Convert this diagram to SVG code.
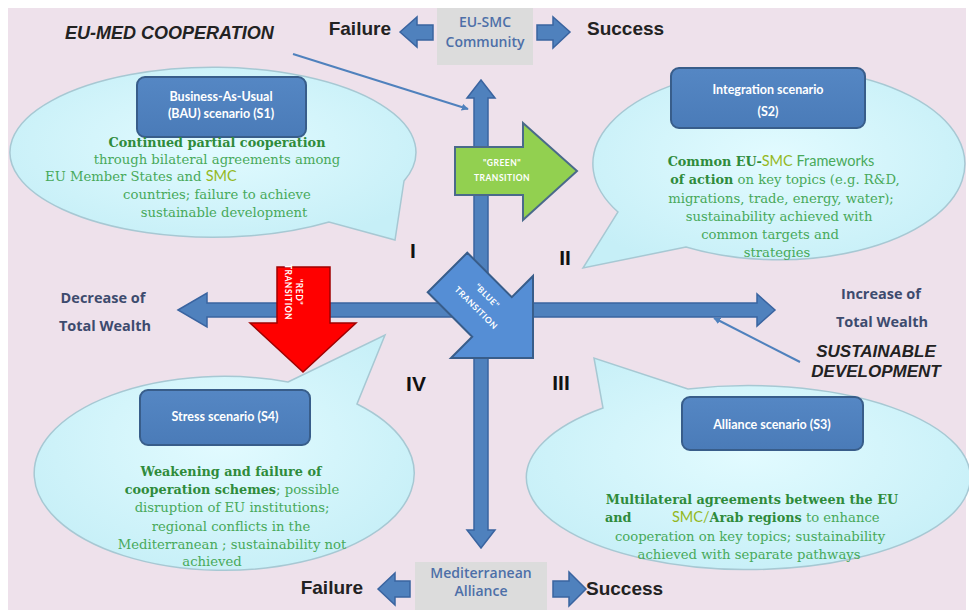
<svg xmlns="http://www.w3.org/2000/svg" width="969" height="613" viewBox="0 0 969 613">
<defs>
<radialGradient id="bub" cx="50%" cy="45%" r="60%">
<stop offset="0" stop-color="#e2fbff"/>
<stop offset="1" stop-color="#c6eff7"/>
</radialGradient>
<linearGradient id="boxg" x1="0" y1="0" x2="0" y2="1">
<stop offset="0" stop-color="#5587c4"/>
<stop offset="1" stop-color="#4a7bb8"/>
</linearGradient>
<marker id="ah" viewBox="0 0 10 10" refX="9" refY="5" markerWidth="7" markerHeight="7" orient="auto" markerUnits="userSpaceOnUse">
<path d="M0,0 L10,5 L0,10 z" fill="#4f81bd"/>
</marker>
<style>
.bubble{fill:url(#bub);stroke:#a7c8d3;stroke-width:1.5}
.box{fill:url(#boxg);stroke:#385d8a;stroke-width:2}
.bt{font-family:Lato,"Liberation Sans",sans-serif;font-weight:700;font-size:12.5px;fill:#ffffff;text-anchor:middle}
.g{font-family:"DejaVu Serif","Liberation Serif",serif;font-size:13.2px;fill:#48a95a}
.gb{font-weight:700;fill:#2f8b3b;font-size:12.8px}
.gs{font-family:Lato,"Liberation Sans",sans-serif;font-size:14.5px}
.yg{fill:#94b81e}
.blk{fill:#4f81bd;stroke:#3a64a0;stroke-width:1.5}
.hd{font-family:"Liberation Sans",Arial,sans-serif;font-weight:700;fill:#222222}
.it{font-style:italic}
.lab{font-family:"Open Sans","Liberation Sans",sans-serif;font-weight:700;font-size:14.5px;fill:#3d4b6e;text-anchor:middle}
.gbox{fill:#dcdcdc}
.gt{font-family:"Open Sans","Liberation Sans",sans-serif;font-weight:600;font-size:14px;fill:#4d6fa8;text-anchor:middle}
.rn{font-family:"Liberation Sans",Arial,sans-serif;font-weight:700;font-size:21px;fill:#111111;text-anchor:middle}
.tt{font-family:Lato,"Liberation Sans",sans-serif;font-weight:700;font-size:8.5px;fill:#ffffff;text-anchor:middle;letter-spacing:0.5px}
.conn{stroke:#4f81bd;stroke-width:2;fill:none}
</style>
</defs>

<rect x="0" y="0" width="969" height="613" fill="#ffffff"/>
<rect x="8" y="8" width="958" height="602" fill="#eee1eb"/>

<g id="s1">
<path class="bubble" d="M404,181 L395,240 L329,222 A203 85 0 1 1 404,181 Z"/>
<rect class="box" x="137" y="77" width="169" height="60" rx="8"/>
<text class="bt" x="221" y="101">Business-As-Usual</text>
<text class="bt" x="221" y="118">(BAU) scenario (S1)</text>
<text class="g" x="217" y="147" text-anchor="middle"><tspan class="gb">Continued partial cooperation</tspan></text>
<text class="g" x="217" y="164" text-anchor="middle">through bilateral agreements among</text>
<text class="g" x="45" y="181">EU Member States and <tspan class="gs yg">SMC</tspan></text>
<text class="g" x="217" y="199" text-anchor="middle">countries; failure to achieve</text>
<text class="g" x="224" y="217" text-anchor="middle">sustainable development</text>
</g>

<g id="s2">
<path class="bubble" d="M686,247 L583,268 L618,212 A186 96 0 1 1 686,247 Z"/>
<rect class="box" x="671" y="68" width="194" height="60" rx="8"/>
<text class="bt" x="768" y="94">Integration scenario</text>
<text class="bt" x="768" y="116">(S2)</text>
<text class="g" x="771" y="166" text-anchor="middle"><tspan class="gb">Common EU-</tspan><tspan class="gs yg">SMC</tspan><tspan class="gs"> Frameworks</tspan></text>
<text class="g" x="785" y="184" text-anchor="middle"><tspan class="gb">of action</tspan> on key topics (e.g. R&amp;D,</text>
<text class="g" x="781" y="203" text-anchor="middle">migrations, trade, energy, water);</text>
<text class="g" x="779" y="221" text-anchor="middle">sustainability achieved with</text>
<text class="g" x="770" y="239" text-anchor="middle">common targets and</text>
<text class="g" x="777" y="257" text-anchor="middle">strategies</text>
</g>

<g id="s4">
<path class="bubble" d="M288,382 L385,335 L357,404 A190 97 0 1 1 288,382 Z"/>
<rect class="box" x="140" y="390" width="170" height="55" rx="8"/>
<text class="bt" x="225" y="421">Stress scenario  (S4)</text>
<text class="g" x="231" y="476" text-anchor="middle"><tspan class="gb">Weakening and failure of</tspan></text>
<text class="g" x="232" y="494" text-anchor="middle"><tspan class="gb">cooperation schemes</tspan>; possible</text>
<text class="g" x="232" y="512" text-anchor="middle">disruption of EU institutions;</text>
<text class="g" x="231" y="531" text-anchor="middle">regional conflicts in the</text>
<text class="g" x="232" y="549" text-anchor="middle">Mediterranean ; sustainability not</text>
<text class="g" x="212" y="566" text-anchor="middle">achieved</text>
</g>

<g id="s3">
<path class="bubble" d="M688,389 L594,358 L603,408 A222 92 0 1 0 688,389 Z"/>
<rect class="box" x="682" y="397" width="181" height="53" rx="8"/>
<text class="bt" x="772" y="429">Alliance  scenario (S3)</text>
<text class="g" x="752" y="504" text-anchor="middle"><tspan class="gb">Multilateral agreements between the EU</tspan></text>
<text class="g" x="605" y="522"><tspan class="gb">and</tspan><tspan x="672" class="gs yg">SMC/</tspan><tspan class="gb">Arab regions</tspan> to enhance</text>
<text class="g" x="750" y="541" text-anchor="middle">cooperation on key topics; sustainability</text>
<text class="g" x="749" y="559" text-anchor="middle">achieved with separate pathways</text>
</g>

<g id="axes">
<polygon class="blk" points="481,80 495,98 488,98 488,530 495,530 481,548 467,530 474,530 474,98 467,98"/>
<polygon class="blk" points="178,310 207,293 207,303 757,303 757,294 775,310 757,326 757,317 207,317 207,327"/>
</g>

<g id="green-transition">
<polygon points="455,147 523,147 523,123 577,171 523,220 523,195 455,195" fill="#92d050" stroke="#4a6a8a" stroke-width="2"/>
<text class="tt" x="502" y="166">"GREEN"</text>
<text class="tt" x="502" y="181">TRANSITION</text>
</g>

<g id="red-transition">
<polygon points="277,267 330,267 330,323 356,323 303,372 250,323 277,323" fill="#ff0000" stroke="#a00000" stroke-width="1.5"/>
<text class="tt" transform="translate(296,292) rotate(90)">"RED"</text>
<text class="tt" transform="translate(285,292) rotate(90)">TRANSITION</text>
</g>

<g id="blue-transition">
<polygon points="467.3,252.7 511.8,297.2 533,276 533,358 451,358 472.2,336.8 427.7,292.3" fill="#558ed5" stroke="#385d8a" stroke-width="2"/>
<text class="tt" transform="translate(485,298) rotate(45)">"BLUE"</text>
<text class="tt" transform="translate(474,310) rotate(45)">TRANSITION</text>
</g>

<g id="numerals">
<text class="rn" x="413" y="258">I</text>
<text class="rn" x="565" y="265">II</text>
<text class="rn" x="561" y="390">III</text>
<text class="rn" x="416" y="391">IV</text>
</g>

<g id="top-labels">
<text class="hd it" x="65" y="39" font-size="18">EU-MED COOPERATION</text>
<text class="hd" x="391" y="35" font-size="19" text-anchor="end">Failure</text>
<polygon class="blk" points="400,32 417,17 417,25 433,25 433,40 417,40 417,47"/>
<rect class="gbox" x="437" y="8" width="96" height="57"/>
<text class="gt" x="485" y="27">EU-SMC</text>
<text class="gt" x="485" y="47">Community</text>
<polygon class="blk" points="537,25 553,25 553,17 570,32 553,48 553,40 537,40"/>
<text class="hd" x="587" y="35" font-size="19">Success</text>
</g>

<g id="side-labels">
<text class="lab" x="103" y="303">Decrease of</text>
<text class="lab" x="105" y="331">Total Wealth</text>
<text class="lab" x="881" y="299">Increase of</text>
<text class="lab" x="882" y="327">Total Wealth</text>
<text class="hd it" x="876" y="357" font-size="17" text-anchor="middle">SUSTAINABLE</text>
<text class="hd it" x="876" y="377" font-size="17" text-anchor="middle">DEVELOPMENT</text>
</g>

<g id="bottom-labels">
<text class="hd" x="363" y="594" font-size="19" text-anchor="end">Failure</text>
<polygon class="blk" points="378,589 395,573 395,581 410,581 410,597 395,597 395,605"/>
<rect class="gbox" x="415" y="562" width="132" height="48"/>
<text class="gt" x="481" y="578">Mediterranean</text>
<text class="gt" x="481" y="596">Alliance</text>
<polygon class="blk" points="553,581 569,581 569,572 586,589 569,606 569,597 553,597"/>
<text class="hd" x="586" y="595" font-size="19">Success</text>
</g>

<g id="connectors">
<line class="conn" x1="293" y1="54" x2="468" y2="109" marker-end="url(#ah)"/>
<line class="conn" x1="800" y1="362" x2="714" y2="318" marker-end="url(#ah)"/>
</g>
</svg>
